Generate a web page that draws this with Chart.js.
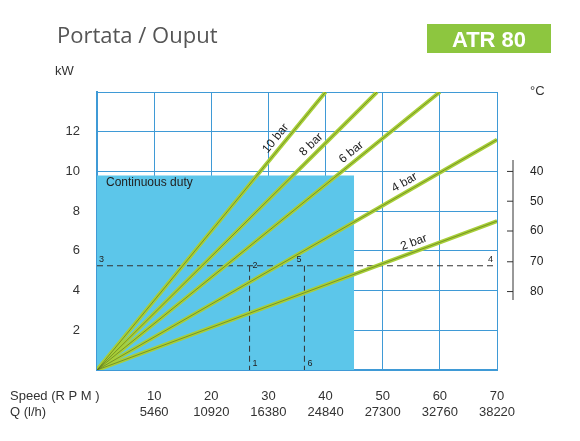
<!DOCTYPE html><html><head><meta charset="utf-8">
<script src="https://cdn.jsdelivr.net/npm/chart.js@4"></script>
<style>html,body{margin:0;background:#fff}#w{position:relative;width:580px;height:441px}</style></head><body>
<div id="w"><canvas id="c" width="580" height="441"></canvas></div>
<script>
const pressures=['10 bar','8 bar','6 bar','4 bar','2 bar'];
const lineEndX=[40,49,60,70,70];
const lineEndY=[14,14,14,11.6,7.5];
const labelAtX=[32.5,38.6,45.5,54.6,56];
const dutyX=45, dutyY=9.8;
const speedTicks=[10,20,30,40,50,60,70];
const flowTicks=['5460','10920','16380','24840','27300','32760','38220'];
const kwTicks=[2,4,6,8,10,12];
const tempLabels=['40','50','60','70','80'];
const tempAtKw=[10,8.5,7,5.45,3.95];
const refKw=5.25, ref1X=26.7, ref2X=36.3;
const green='#a8cf38';
const ds=[{data:[{x:0,y:dutyY},{x:dutyX,y:dutyY},{x:dutyX,y:0}],borderWidth:0,backgroundColor:'#5cc6ea',fill:'origin',pointRadius:0,order:5}];
ds.push({data:[{x:0,y:refKw},{x:70,y:refKw}],borderColor:'#333',borderWidth:1,borderDash:[6,4],pointRadius:0,order:3});
ds.push({data:[{x:ref1X,y:refKw},{x:ref1X,y:0}],borderColor:'#333',borderWidth:1,borderDash:[6,4],pointRadius:0,order:3});
ds.push({data:[{x:ref2X,y:refKw},{x:ref2X,y:0}],borderColor:'#333',borderWidth:1,borderDash:[6,4],pointRadius:0,order:3});
pressures.forEach((p,i)=>{ds.push({data:[{x:0,y:0},{x:lineEndX[i],y:lineEndY[i]}],borderColor:green,borderWidth:4,pointRadius:0,order:1});
ds.push({data:[{x:0,y:0},{x:lineEndX[i],y:lineEndY[i]}],borderColor:'#556b1a',borderWidth:0.6,pointRadius:0,order:0});});
const deco={id:'deco',afterDraw(ch){const c=ch.ctx,x=ch.scales.x,y=ch.scales.y;c.save();
c.fillStyle='#333';c.font='13px Arial';c.textAlign='right';c.textBaseline='middle';
kwTicks.forEach(v=>c.fillText(v,80,y.getPixelForValue(v)));
c.textAlign='center';c.textBaseline='alphabetic';
speedTicks.forEach((v,i)=>{c.fillText(v,x.getPixelForValue(v),400);c.fillText(flowTicks[i],x.getPixelForValue(v),416);});
c.textAlign='left';c.fillText('Speed (R P M )',10,400);c.fillText('Q (l/h)',10,416);
c.fillText('kW',55,75);c.fillText('°C',530,95);
c.font='12px Arial';c.fillStyle='#222';c.fillText('Continuous duty',106,186);
// right temp axis
c.strokeStyle='#333';c.lineWidth=1;c.beginPath();c.moveTo(513,160);c.lineTo(513,300);c.stroke();
c.font='12px Arial';c.textBaseline='middle';
tempLabels.forEach((t,i)=>{const py=y.getPixelForValue(tempAtKw[i]);c.beginPath();c.moveTo(507,py);c.lineTo(513,py);c.stroke();c.fillText(t,530,py);});
// ref numbers
c.font='9px Arial';c.fillStyle='#222';
const ry=y.getPixelForValue(refKw);
c.fillText('3',99,ry-6);c.fillText('4',488,ry-6);
c.fillText('2',x.getPixelForValue(ref1X)+3,ry+0);c.fillText('5',x.getPixelForValue(ref2X)-8,ry-6);
c.fillText('1',x.getPixelForValue(ref1X)+3,y.bottom-6);c.fillText('6',x.getPixelForValue(ref2X)+3,y.bottom-6);
// pressure labels
c.font='12px Arial';c.fillStyle='#222';c.textAlign='center';c.textBaseline='bottom';
pressures.forEach((p,i)=>{const lx=labelAtX[i],ly=lineEndY[i]/lineEndX[i]*lx;const px=x.getPixelForValue(lx),py=y.getPixelForValue(ly);
const a=Math.atan2(y.getPixelForValue(lineEndY[i])-y.getPixelForValue(0),x.getPixelForValue(lineEndX[i])-x.getPixelForValue(0));
c.save();c.translate(px,py);c.rotate(a);c.fillText(p,0,-3);c.restore();});
// title & badge
c.textAlign='left';c.textBaseline='alphabetic';c.fillStyle='#555';c.font='22px "Open Sans",Arial';c.fillText('Portata / Ouput',57,43);
c.fillStyle='#8dc63f';c.fillRect(427,24,124,29);c.fillStyle='#fff';c.font='bold 22px Arial';c.textAlign='center';c.fillText('ATR 80',489,47);
c.restore();}};
new Chart(document.getElementById('c'),{type:'line',data:{datasets:ds},plugins:[deco],
options:{responsive:false,animation:false,layout:{padding:{left:97,right:83,top:92,bottom:71}},
plugins:{legend:{display:false},tooltip:{enabled:false}},
scales:{x:{type:'linear',min:0,max:70,ticks:{display:false,stepSize:10},grid:{color:'#3f9ad6',drawTicks:false},border:{color:'#3f9ad6',width:2}},
y:{min:0,max:14,ticks:{display:false,stepSize:2},grid:{color:'#3f9ad6',drawTicks:false},border:{color:'#3f9ad6',width:2}}}}});
</script></body></html>
